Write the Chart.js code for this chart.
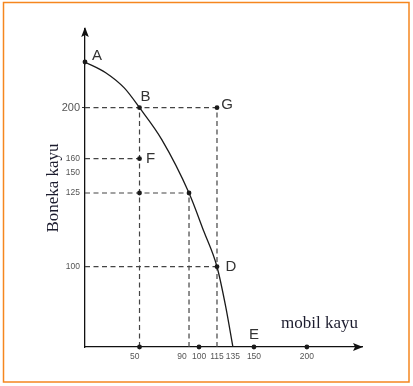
<!DOCTYPE html>
<html>
<head>
<meta charset="utf-8">
<script src="https://cdn.jsdelivr.net/npm/chart.js@4/dist/chart.umd.min.js"></script>
<style>
  body { margin: 0; background: #fff; }
  canvas { display: block; }
</style>
</head>
<body>
<canvas id="myChart" width="413" height="386"></canvas>
<script>
// curve of production possibilities (read along the drawn arc)
const curveX = [0, 19, 36, 50, 68, 90, 104, 115, 126, 135];
const curveY = [230, 223, 213, 200, 175, 125, 112, 100, 50, 0];

// named points
const pointNames = ['A', 'B', 'F', 'G', 'D', 'E'];
const pointX = [0, 50, 50, 115, 115, 150];
const pointY = [230, 200, 160, 200, 100, 0];

// unnamed dots
const dotX = [50, 90, 50, 100, 200];
const dotY = [125, 125, 0, 0, 0];

// dashed guides
const guideRows = [200, 160, 125, 100];
const guideRowEnds = [115, 50, 90, 115];
const guideCols = [50, 90, 115];
const guideColEnds = [200, 125, 200];

const xTicks = [50, 90, 100, 115, 135, 150, 200];
const yTicks = [100, 125, 150, 160, 200];

// axis that is not drawn to scale: value -> fraction of axis length
function interp(v, from, to) {
    if (v <= from[0]) return to[0];
    for (let i = 1; i < from.length; i++) {
        if (v <= from[i]) {
            let t = (v - from[i - 1]) / (from[i] - from[i - 1]);
            return to[i - 1] + t * (to[i] - to[i - 1]);
        }
    }
    return to[to.length - 1];
}

class PiecewiseScale extends Chart.LinearScale {
    getPixelForValue(value) {
        if (value === null || isNaN(value)) return NaN;
        let k = this.options.knots;
        return this.getPixelForDecimal(interp(value, k.values, k.fractions));
    }
    getValueForPixel(pixel) {
        let k = this.options.knots;
        let d = this.getDecimalForPixel(pixel);
        return interp(d, k.fractions, k.values);
    }
}
PiecewiseScale.id = 'piecewise';
PiecewiseScale.defaults = Chart.LinearScale.defaults;
Chart.register(PiecewiseScale);

function toPoints(xs, ys) {
    return xs.map((x, i) => ({ x: x, y: ys[i] }));
}

const dashed = {
    borderColor: '#444',
    borderWidth: 1.2,
    borderDash: [5, 3.5],
    pointRadius: 0,
    fill: false
};

let datasets = [];
datasets.push({
    data: toPoints(pointX, pointY).concat(toPoints(dotX, dotY)),
    showLine: false,
    clip: false,
    pointRadius: 2.4,
    pointBackgroundColor: '#1a1a1a',
    pointBorderWidth: 0
});
datasets.push({
    data: toPoints(curveX, curveY),
    borderColor: '#1a1a1a',
    borderWidth: 1.3,
    cubicInterpolationMode: 'monotone',
    pointRadius: 0,
    fill: false
});
guideRows.forEach((y, i) => {
    datasets.push(Object.assign({ data: [{ x: 0, y: y }, { x: guideRowEnds[i], y: y }] }, dashed));
});
guideCols.forEach((x, i) => {
    datasets.push(Object.assign({ data: [{ x: x, y: 0 }, { x: x, y: guideColEnds[i] }] }, dashed));
});

const decorations = {
    id: 'decorations',
    afterDraw(chart) {
        let ctx = chart.ctx;
        let area = chart.chartArea;
        let sx = chart.scales.x, sy = chart.scales.y;
        ctx.save();

        // orange frame
        ctx.strokeStyle = '#f5861f';
        ctx.lineWidth = 1.5;
        ctx.strokeRect(3.5, 2.5, 405.5, 379.5);

        // arrow heads
        ctx.fillStyle = '#111';
        ctx.beginPath();
        ctx.moveTo(area.left, area.top - 2);
        ctx.lineTo(area.left - 3.8, area.top + 8);
        ctx.lineTo(area.left, area.top + 6);
        ctx.lineTo(area.left + 3.8, area.top + 8);
        ctx.closePath();
        ctx.fill();
        ctx.beginPath();
        ctx.moveTo(area.right + 1, area.bottom);
        ctx.lineTo(area.right - 9, area.bottom - 4);
        ctx.lineTo(area.right - 7, area.bottom);
        ctx.lineTo(area.right - 9, area.bottom + 4);
        ctx.closePath();
        ctx.fill();

        // point names
        const offsets = [[12, -6], [6, -11], [11, 0], [10, -3], [14, 0], [0, -12]];
        ctx.font = '15px Arial';
        ctx.fillStyle = '#333';
        ctx.textAlign = 'center';
        ctx.textBaseline = 'middle';
        pointNames.forEach((name, i) => {
            let px = sx.getPixelForValue(pointX[i]) + offsets[i][0];
            let py = sy.getPixelForValue(pointY[i]) + offsets[i][1];
            ctx.fillText(name, px, py);
        });

        // x axis title
        ctx.font = '17px "Liberation Serif", "Times New Roman", serif';
        ctx.fillStyle = '#1c1c2e';
        ctx.fillText('mobil kayu', 319.5, 324);
        ctx.restore();
    }
};

new Chart(document.getElementById('myChart'), {
    type: 'line',
    data: { datasets: datasets },
    options: {
        responsive: false,
        animation: false,
        layout: { padding: { left: 39, top: 29, right: 51, bottom: 5 } },
        plugins: { legend: { display: false }, tooltip: { enabled: false } },
        scales: {
            x: {
                type: 'piecewise',
                min: 0,
                max: 250,
                knots: {
                    values: [0, 50, 90, 100, 115, 135, 150, 200, 250],
                    fractions: [0, 0.1968, 0.3755, 0.4116, 0.4765, 0.534, 0.61, 0.801, 1]
                },
                afterBuildTicks: (scale) => { scale.ticks = xTicks.map(v => ({ value: v })); },
                afterFit: (scale) => { scale.height = 34; },
                grid: { display: false, drawTicks: false, tickLength: 0 },
                border: { color: '#111', width: 1.3 },
                ticks: {
                    autoSkip: false,
                    maxRotation: 0,
                    padding: 5,
                    color: '#555',
                    font: { size: 8.5, family: 'Arial' },
                    // the printed labels sit a little left of their guide lines
                    callback: (v) => (v === 90 ? '90      ' : v === 50 ? '50    ' : String(v))
                }
            },
            y: {
                type: 'piecewise',
                min: 0,
                max: 260,
                knots: {
                    values: [0, 100, 125, 150, 160, 200, 230, 260],
                    fractions: [0, 0.2525, 0.4843, 0.548, 0.5921, 0.7525, 0.8962, 1]
                },
                afterBuildTicks: (scale) => { scale.ticks = yTicks.map(v => ({ value: v })); },
                afterFit: (scale) => { scale.width = 46; },
                grid: {
                    drawOnChartArea: false,
                    tickLength: 3,
                    color: (c) => (c.tick && c.tick.value === 200 ? '#333' : 'rgba(0,0,0,0)')
                },
                border: { color: '#111', width: 1.3 },
                title: {
                    display: true,
                    text: 'Boneka kayu',
                    color: '#1c1c2e',
                    font: { size: 17, family: '"Liberation Serif", "Times New Roman", serif' },
                    padding: { top: 4, bottom: 0 }
                },
                ticks: {
                    padding: 2,
                    color: '#555',
                    font: (c) => ({ size: c.tick && c.tick.value === 200 ? 11 : 8.5, family: 'Arial' })
                }
            }
        }
    },
    plugins: [decorations]
});
</script>
</body>
</html>
